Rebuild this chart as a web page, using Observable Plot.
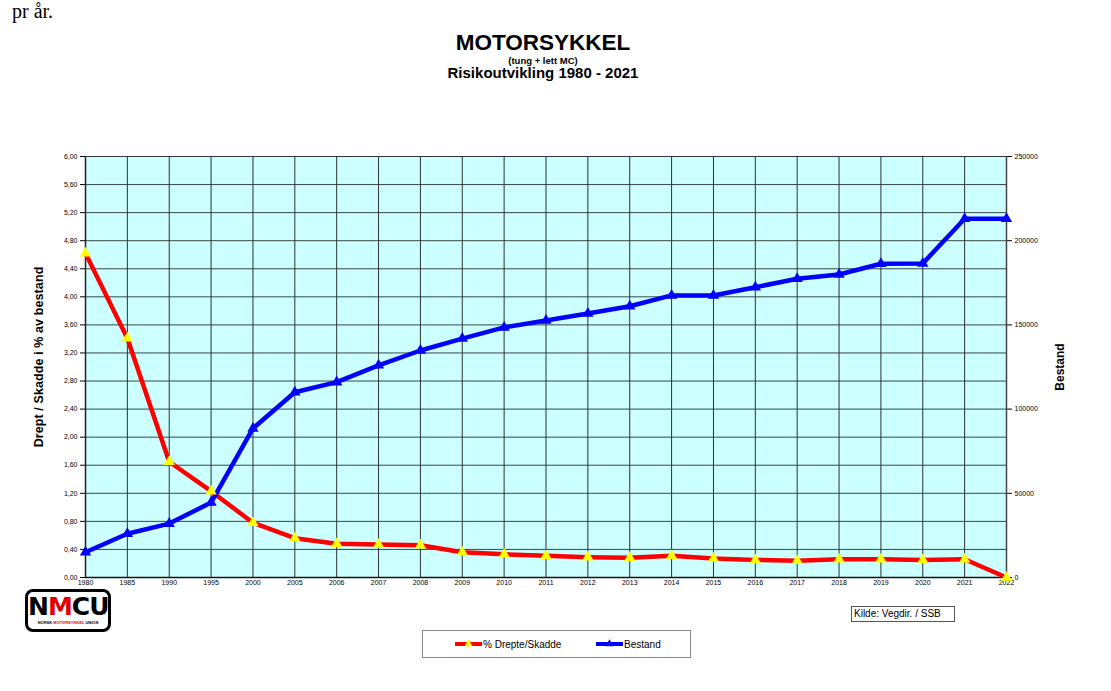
<!DOCTYPE html>
<html>
<head>
<meta charset="utf-8">
<script src="https://cdn.jsdelivr.net/npm/d3@7"></script>
<script src="https://cdn.jsdelivr.net/npm/@observablehq/plot@0.6"></script>
<style>
  html, body { margin: 0; padding: 0; background: #fff; width: 1111px; height: 691px; overflow: hidden; position: relative; font-family: "Liberation Sans", Arial, sans-serif; }
  .abs { position: absolute; }
  #t1 { left: 0; width: 1086px; top: 30px; text-align: center; font-weight: bold; font-size: 22.5px; line-height: 26px; }
  #t2 { left: 0; width: 1086px; top: 55px; text-align: center; font-weight: bold; font-size: 9.5px; line-height: 11px; }
  #t3 { left: 0; width: 1086px; top: 64px; text-align: center; font-weight: bold; font-size: 15px; line-height: 18px; }
  #prar { left: 12px; top: 0px; font-family: "Liberation Serif", "Times New Roman", serif; font-size: 20px; line-height: 22px; }
  #chart { left: 0; top: 140px; width: 1111px; }
  #kilde { left: 851px; top: 606px; width: 100px; height: 14px; border: 1px solid #555; font-size: 10px; line-height: 14px; padding-left: 2px; box-sizing: content-box; }
  #legend { left: 422px; top: 630px; width: 267px; height: 26px; border: 1px solid #888; font-size: 10px; }
  #logo { left: 25px; top: 589px; width: 80px; height: 37px; border: 3px solid #000; border-radius: 8px; text-align: center; }
  #logo .big { font-family: "DejaVu Sans", sans-serif; font-weight: 900; font-size: 25px; letter-spacing: -1px; line-height: 27px; margin-top: 1px; }
  #logo .small { font-size: 4px; font-weight: bold; line-height: 5px; }
</style>
</head>
<body>
<div id="prar" class="abs">pr år.</div>
<div id="t1" class="abs">MOTORSYKKEL</div>
<div id="t2" class="abs">(tung + lett MC)</div>
<div id="t3" class="abs">Risikoutvikling 1980 - 2021</div>
<div id="chart" class="abs"></div>
<div id="logo" class="abs"><div class="big">N<span style="color:#e00000">M</span>CU</div><div class="small">NORSK <span style="color:#e00000">MOTORSYKKEL</span> UNION</div></div>
<div id="kilde" class="abs">Kilde: Vegdir. / SSB</div>
<div id="legend" class="abs"></div>
<script>
const years = ["1980","1985","1990","1995","2000","2005","2006","2007","2008","2009","2010","2011","2012","2013","2014","2015","2016","2017","2018","2019","2020","2021","2022"];
const drepteSkadde = [4.62,3.41,1.65,1.23,0.78,0.56,0.48,0.47,0.46,0.36,0.33,0.31,0.29,0.28,0.31,0.27,0.25,0.24,0.26,0.26,0.25,0.26,0.00];
const bestand = [15000,26000,32000,44500,88500,110000,116000,126000,134800,141900,148500,152600,156800,161100,167500,167500,172400,177400,179900,186300,186500,213000,213000];
const leftTicks = [0,0.4,0.8,1.2,1.6,2.0,2.4,2.8,3.2,3.6,4.0,4.4,4.8,5.2,5.6,6.0];
const rightTicks = [0,50000,100000,150000,200000,250000];
const leftMax = 6, rightMax = 250000;
const seriesNames = ["% Drepte/Skadde", "Bestand"];

const red = years.map((y, i) => ({year: y, v: drepteSkadde[i]}));
const blue = years.map((y, i) => ({year: y, v: bestand[i] * leftMax / rightMax}));

const W = 1111, H = 460;
const plot = Plot.plot({
  width: W, height: H,
  marginTop: 16, marginBottom: 23, marginLeft: 85, marginRight: 105,
  style: {fontFamily: "Liberation Sans, Arial, sans-serif", background: "transparent"},
  x: {type: "point", domain: years, padding: 0, round: false},
  y: {domain: [0, leftMax]},
  marks: [
    Plot.frame({fill: "#ccffff", stroke: null}),
    Plot.ruleY(leftTicks, {stroke: "#3c4646", strokeWidth: 1}),
    Plot.ruleX(years, {stroke: "#2a3333", strokeWidth: 1}),
    Plot.axisY({anchor: "left", ticks: leftTicks, tickSize: 5, tickPadding: 3, fontSize: 7, label: null,
      tickFormat: d => d.toFixed(2).replace(".", ",")}),
    Plot.axisY({anchor: "right", ticks: rightTicks.map(t => t * leftMax / rightMax), tickSize: 5, tickPadding: 3, fontSize: 7, label: null,
      tickFormat: d => String(Math.round(d * rightMax / leftMax))}),
    Plot.axisX({ticks: years, tickSize: 0, tickPadding: 3, fontSize: 7, label: null}),
    Plot.ruleX([0], {x: () => years[0], stroke: "#222", strokeWidth: 1.5}),
    Plot.ruleX([0], {x: () => years[years.length - 1], stroke: "#444", strokeWidth: 1.5}),
    Plot.ruleY([0], {stroke: "#111", strokeWidth: 1.5}),
    Plot.ruleY([leftMax], {stroke: "#333", strokeWidth: 1}),
    Plot.line(red, {x: "year", y: "v", stroke: "#ff0000", strokeWidth: 4.5}),
    Plot.line(blue, {x: "year", y: "v", stroke: "#0000ff", strokeWidth: 4.5}),
    Plot.dot(red, {x: "year", y: "v", symbol: "triangle", r: 4.2, fill: "#ffff00", stroke: "none"}),
    Plot.dot(blue, {x: "year", y: "v", symbol: "triangle", r: 4.2, fill: "#0000ff", stroke: "none"}),
    Plot.text(["Drept / Skadde i % av bestand"], {frameAnchor: "left", textAnchor: "middle", dx: -47, dy: -10, rotate: -90, fontSize: 12.5, fontWeight: "bold", fill: "#000"}),
    Plot.text(["Bestand"], {frameAnchor: "right", textAnchor: "middle", dx: 54, dy: 0, rotate: -90, fontSize: 12, fontWeight: "bold", fill: "#000"})
  ]
});
d3.select(plot).selectAll("text").filter(function() { return this.textContent === "Drept / Skadde i % av bestand"; })
  .style("letter-spacing", "0.1px");
document.getElementById("chart").appendChild(plot);

// legend
const lg = d3.select("#legend").append("svg").attr("width", 267).attr("height", 26)
  .style("font-family", "Liberation Sans, Arial, sans-serif");
const items = [
  {name: seriesNames[0], stroke: "#ff0000", fill: "#ffff00", x0: 32, tx: 60},
  {name: seriesNames[1], stroke: "#0000ff", fill: "#0000ff", x0: 173, tx: 201}
];
items.forEach(it => {
  lg.append("line").attr("x1", it.x0).attr("x2", it.x0 + 27).attr("y1", 13).attr("y2", 13)
    .attr("stroke", it.stroke).attr("stroke-width", 4);
  lg.append("path").attr("d", d3.symbol(d3.symbolTriangle, 28)()).attr("transform", `translate(${it.x0 + 13.5},13)`)
    .attr("fill", it.fill);
  lg.append("text").attr("x", it.tx).attr("y", 17).attr("font-size", 10).text(it.name);
});
</script>
</body>
</html>
